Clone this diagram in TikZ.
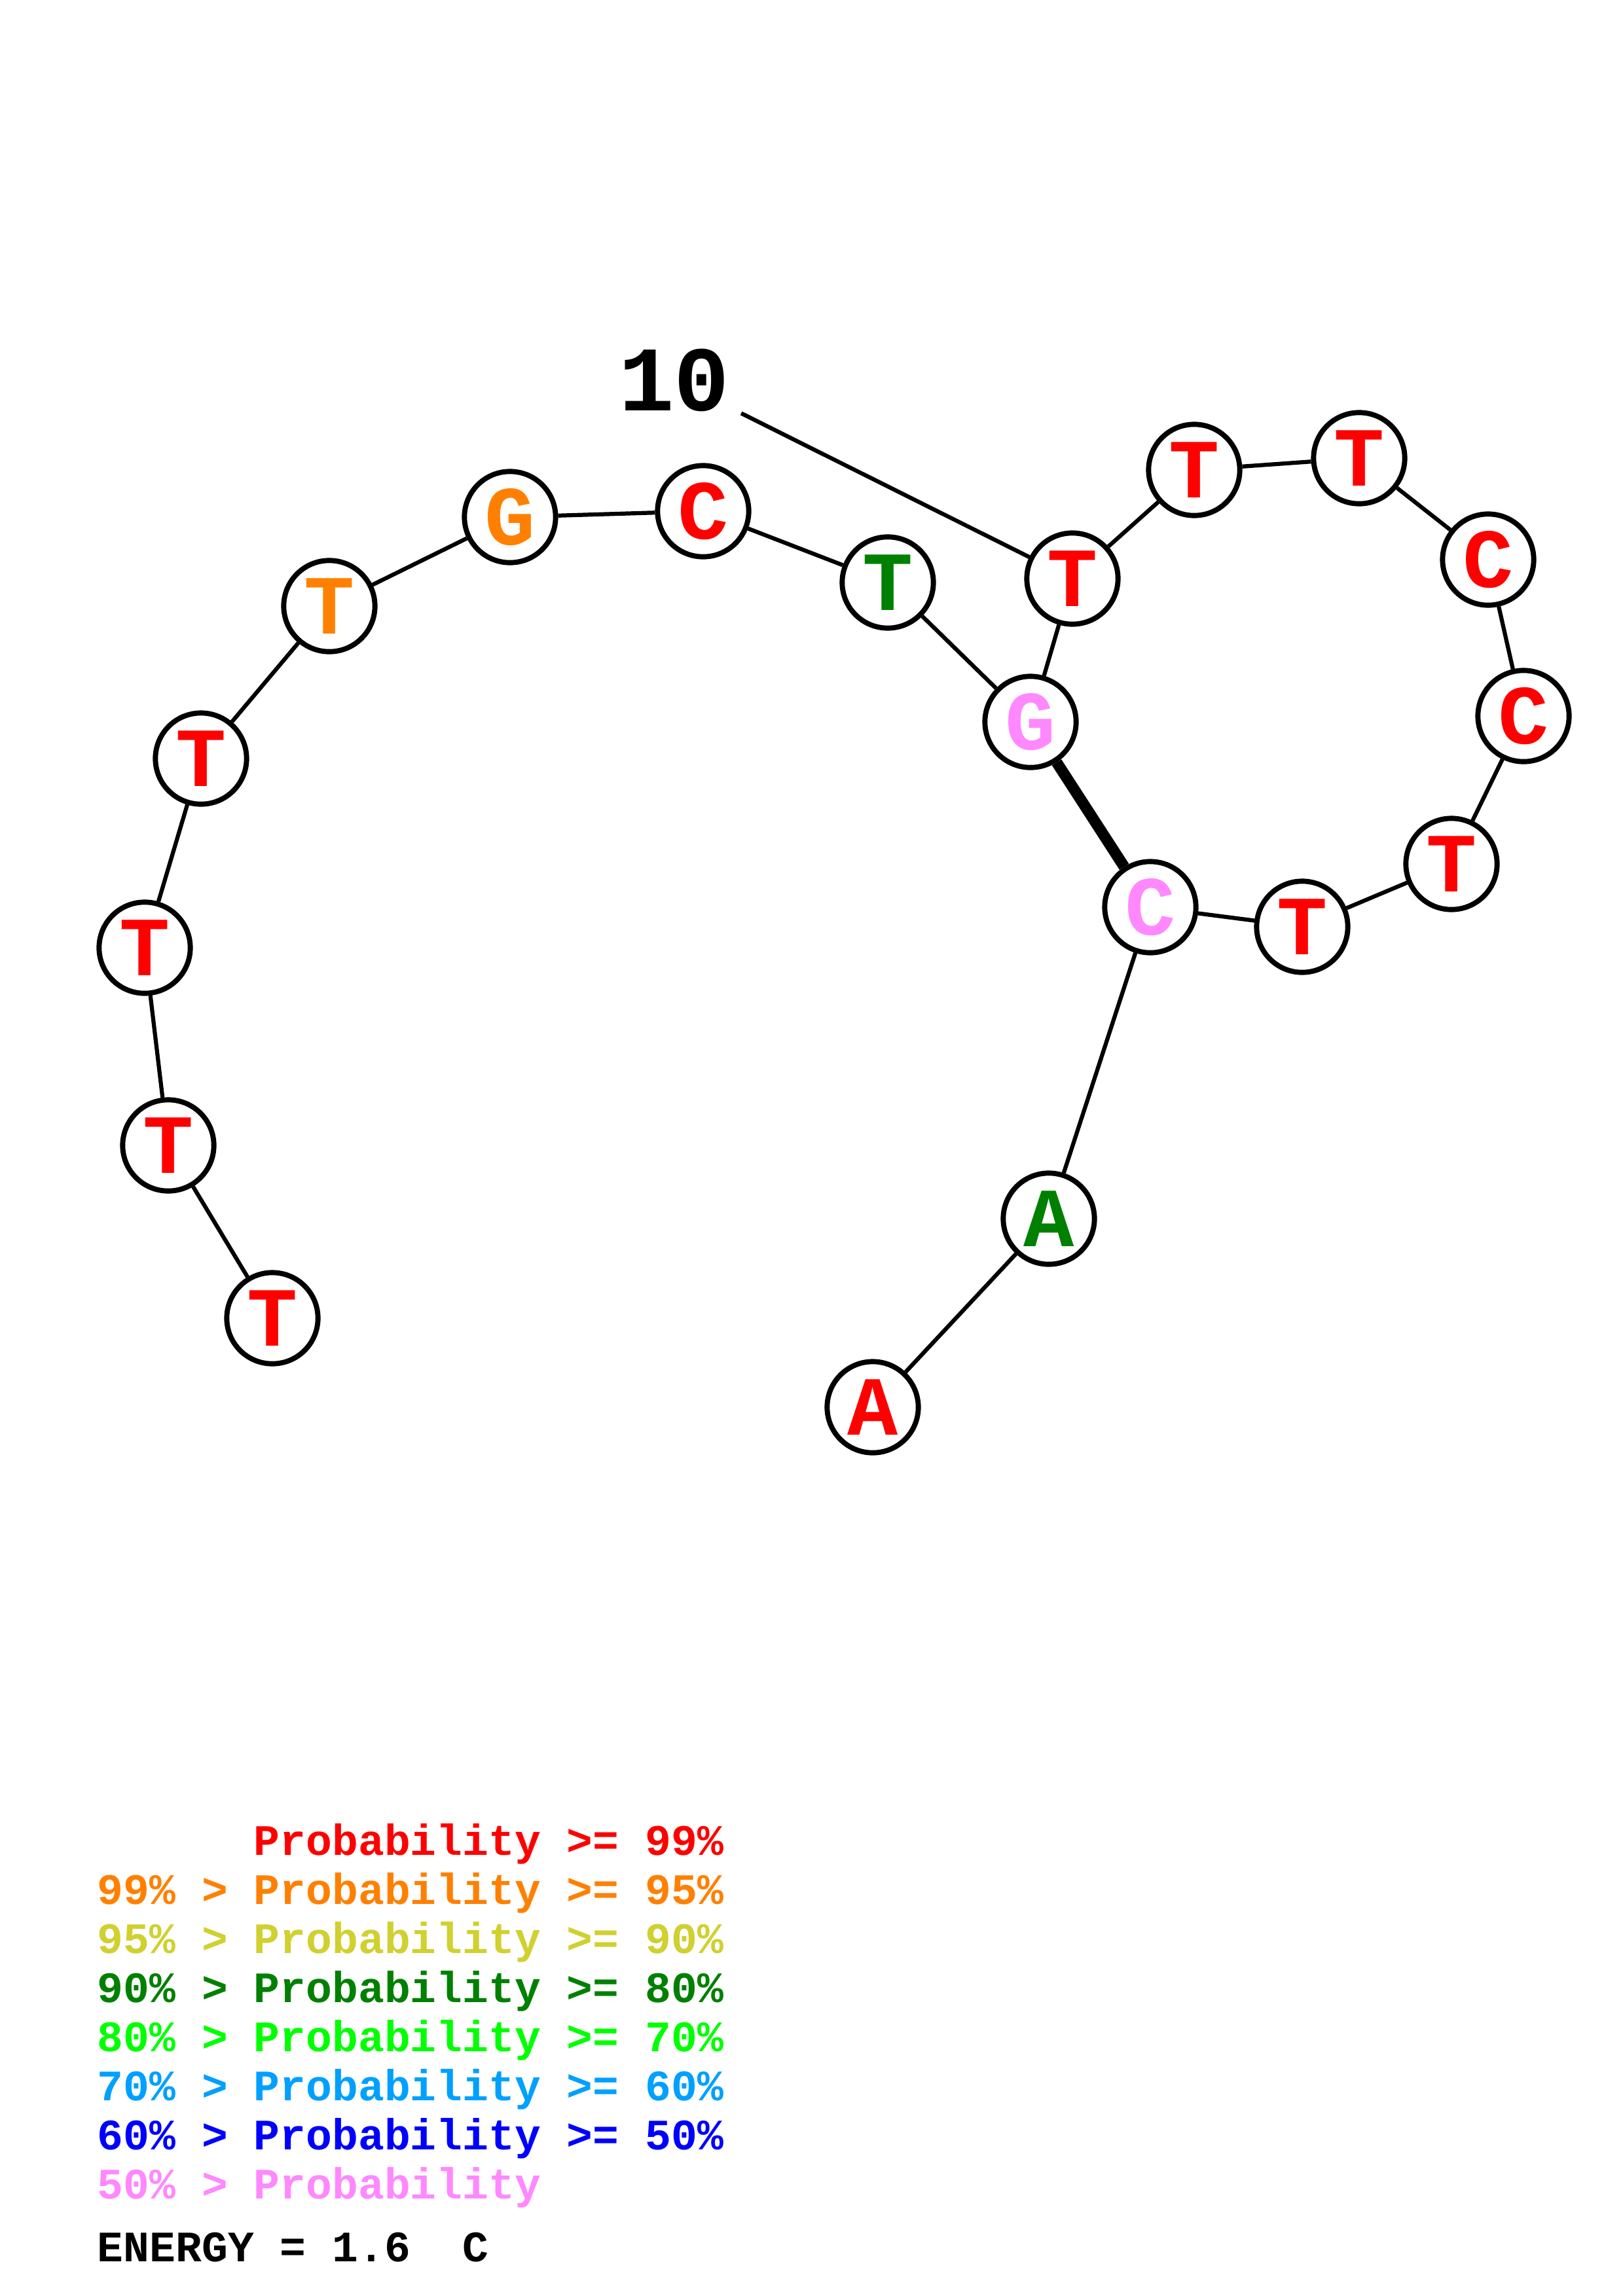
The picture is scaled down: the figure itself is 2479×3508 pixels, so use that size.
\documentclass[tikz,border=0pt]{standalone}
\usepackage{fontspec}
\setmonofont{Liberation Mono}
\definecolor{pr99}{RGB}{255,0,0}
\definecolor{pr95}{RGB}{255,128,0}
\definecolor{pr90}{RGB}{208,208,48}
\definecolor{pr80}{RGB}{0,128,0}
\definecolor{pr70}{RGB}{0,255,0}
\definecolor{pr60}{RGB}{0,160,255}
\definecolor{pr50}{RGB}{0,0,255}
\definecolor{prlow}{RGB}{255,136,255}
\begin{document}
\begin{tikzpicture}[x=0.0847mm,y=-0.0847mm,
    base/.style={circle,draw,line width=1.9pt,minimum size=11.8mm,inner sep=0pt,fill=white,
      font=\ttfamily\bfseries\fontsize{31}{31}\selectfont},
    bond/.style={line width=1.5pt},
    pair/.style={line width=4.1pt},
    legend/.style={anchor=base west,inner sep=0pt,font=\ttfamily\bfseries\fontsize{16}{16}\selectfont}]
    \useasboundingbox (0,0) rectangle (2479,3508);
    \node[base,text=pr99] (n1) at (416,2014) {T};
    \node[base,text=pr99] (n2) at (257,1750) {T};
    \node[base,text=pr99] (n3) at (221,1448) {T};
    \node[base,text=pr99] (n4) at (307,1159) {T};
    \node[base,text=pr95] (n5) at (503,926) {T};
    \node[base,text=pr95] (n6) at (779,790) {G};
    \node[base,text=pr99] (n7) at (1074,781) {C};
    \node[base,text=pr80] (n8) at (1356,890) {T};
    \node[base,text=prlow] (n9) at (1574,1103) {G};
    \node[base,text=pr99] (n10) at (1638,884) {T};
    \node[base,text=pr99] (n11) at (1824,718) {T};
    \node[base,text=pr99] (n12) at (2076,700) {T};
    \node[base,text=pr99] (n13) at (2273,855) {C};
    \node[base,text=pr99] (n14) at (2327,1094) {C};
    \node[base,text=pr99] (n15) at (2217,1320) {T};
    \node[base,text=pr99] (n16) at (1989,1416) {T};
    \node[base,text=prlow] (n17) at (1757,1386) {C};
    \node[base,text=pr80] (n18) at (1602,1862) {A};
    \node[base,text=pr99] (n19) at (1333,2150) {A};
    \foreach \a/\b in {1/2,2/3,3/4,4/5,5/6,6/7,7/8,8/9,9/10,10/11,11/12,12/13,13/14,14/15,15/16,16/17,17/18,18/19}
        \draw[bond] (n\a)--(n\b);
    \draw[pair] (n9)--(n17);
    \node[anchor=base,inner sep=4pt,font=\ttfamily\bfseries\fontsize{34}{34}\selectfont] (lab10) at (1030,627) {10};
    \draw[bond] (lab10)--(n10);
    % legend
    \node[legend,text=pr99] (leg99) at (148,2834) {\phantom{99\% >} Probability >= 99\%};
    \node[legend,text=pr95] (leg95) at (148,2909) {99\% > Probability >= 95\%};
    \node[legend,text=pr90] (leg90) at (148,2984) {95\% > Probability >= 90\%};
    \node[legend,text=pr80] (leg80) at (148,3059) {90\% > Probability >= 80\%};
    \node[legend,text=pr70] (leg70) at (148,3134) {80\% > Probability >= 70\%};
    \node[legend,text=pr60] (leg60) at (148,3209) {70\% > Probability >= 60\%};
    \node[legend,text=pr50] (leg50) at (148,3284) {60\% > Probability >= 50\%};
    \node[legend,text=prlow] (leglow) at (148,3359) {50\% > Probability};
    \node[legend] (energy) at (148,3455) {ENERGY = 1.6\ \ C};
\end{tikzpicture}
\end{document}
